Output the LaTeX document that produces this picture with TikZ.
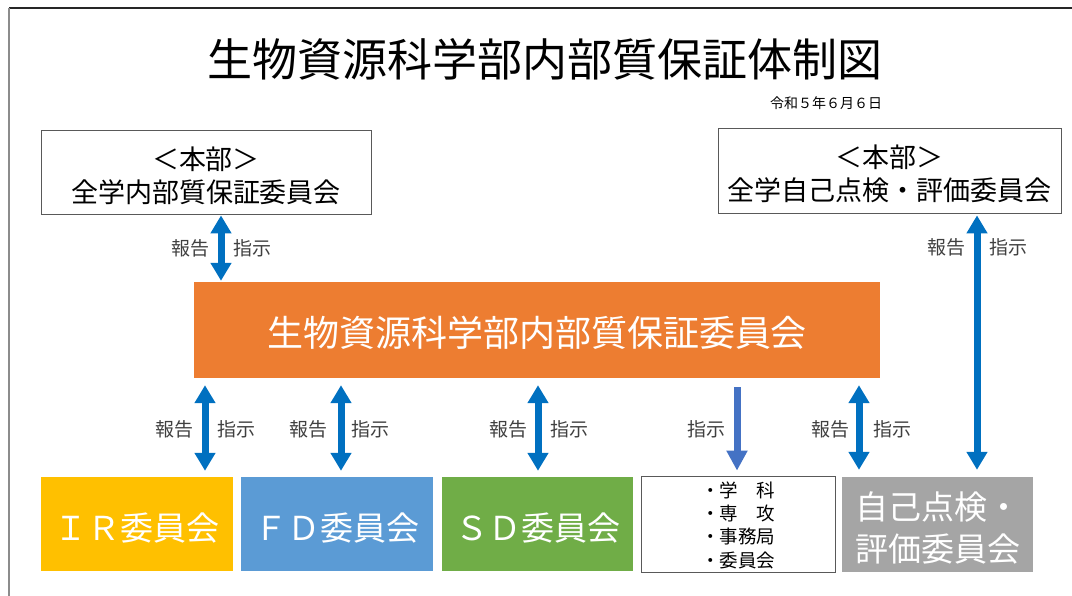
\documentclass[tikz,border=0pt]{standalone}
\usepackage{fontspec}
\setmainfont{Noto Sans CJK JP}
\usetikzlibrary{arrows.meta}
\definecolor{orng}{HTML}{ED7D31}
\definecolor{ylw}{HTML}{FFC000}
\definecolor{lblue}{HTML}{5B9BD5}
\definecolor{grn}{HTML}{70AD47}
\definecolor{gry}{HTML}{A5A5A5}
\definecolor{arrblue}{HTML}{0070C0}
\definecolor{arrblue2}{HTML}{4472C4}
\definecolor{lblgray}{HTML}{404040}
\newcommand\mylower[2]{\raisebox{-#1}[\height][\depth]{#2}}
\newcommand\mylines[2]{\mylower{#1}{\begin{tabular}{@{}c@{}}#2\end{tabular}}}
\newcommand\mylinesl[2]{\mylower{#1}{\begin{tabular}{@{}l@{}}#2\end{tabular}}}
\tikzset{
  hqbox/.style={draw=black!65, line width=0.8pt, fill=white, inner sep=0pt,
    font=\fontsize{27}{33}\selectfont},
  commbox/.style={inner sep=0pt, minimum width=192pt, minimum height=94pt, text=white,
    font=\fontsize{33}{42}\selectfont},
  dblarrow/.style={draw=arrblue, line width=7pt,
    {Triangle[width=20pt,length=18pt]}-{Triangle[width=20pt,length=18pt]}},
  onearrow/.style={draw=arrblue2, line width=7pt, -{Triangle[width=20pt,length=20pt]}},
  lbl/.style={text=lblgray, inner sep=0pt, font=\fontsize{19}{22}\selectfont}
}
\begin{document}
\begin{tikzpicture}[x=1pt,y=-1pt]
\useasboundingbox (0,0) rectangle (1072,596);
% frame
\coordinate (fTL) at (9,8);
\coordinate (fTR) at (1072,8);
\coordinate (fBL) at (9,596);
\draw[black!85, line width=1.3pt] (fTL) -- (fTR);
\draw[black!45, line width=1.3pt] (fTL) -- (fBL);

% title and date
\node[inner sep=0pt, font=\fontsize{45}{54}\selectfont] (title) at (545,59) {生物資源科学部内部質保証体制図};
\node[inner sep=0pt, font=\fontsize{14}{16}\selectfont] (date) at (826,103) {令和５年６月６日};

% top boxes
\node[hqbox, minimum width=330pt, minimum height=84pt] (hqL) at (206,172)
  {\mylines{7pt}{＜本部＞\\全学内部質保証委員会}};
\node[hqbox, minimum width=343pt, minimum height=85pt] (hqR) at (889.5,170.5)
  {\mylines{7pt}{＜本部＞\\全学自己点検・評価委員会}};

% main committee
\node[fill=orng, inner sep=0pt, minimum width=686pt, minimum height=96pt, text=white,
  font=\fontsize{36}{42}\selectfont] (main) at (537,330) {\mylower{3pt}{生物資源科学部内部質保証委員会}};

% bottom boxes
\node[commbox, fill=ylw] (ir) at (137,524) {\mylower{4pt}{ＩＲ委員会}};
\node[commbox, fill=lblue] (fd) at (337,524) {\mylower{4pt}{ＦＤ委員会}};
\node[commbox, fill=grn, minimum width=191pt] (sd) at (537.5,524) {\mylower{4pt}{ＳＤ委員会}};
\node[draw=black!65, line width=0.8pt, fill=white, inner sep=0pt, minimum width=194pt,
  minimum height=96pt, font=\fontsize{18.5}{23.3}\selectfont] (dept) at (738,524)
  {\mylinesl{3.5pt}{・学　科\\・専　攻\\・事務局\\・委員会}};
\node[commbox, fill=gry, minimum width=191pt, minimum height=95pt] (self) at (937.5,524.5)
  {\mylinesl{7.5pt}{自己点検・\\評価委員会}};

% arrows
\draw[dblarrow, shorten <=1pt, shorten >=1pt] (hqL.south -| 221,0) -- (main.north -| 221,0);
\draw[dblarrow, shorten <=7pt, shorten >=6pt] (main.south -| 205,0) -- (ir.north -| 205,0);
\draw[dblarrow, shorten <=7pt, shorten >=6pt] (main.south -| 341,0) -- (fd.north -| 341,0);
\draw[dblarrow, shorten <=7pt, shorten >=6pt] (main.south -| 538,0) -- (sd.north -| 538,0);
\draw[onearrow, shorten <=9pt, shorten >=5pt] (main.south -| 737,0) -- (dept.north -| 737,0);
\draw[dblarrow, shorten <=7pt, shorten >=7pt] (main.south -| 859,0) -- (self.north -| 859,0);
\draw[dblarrow, shorten <=2pt, shorten >=7pt] (hqR.south -| 977,0) -- (self.north -| 977,0);

% labels
\node[lbl] (l1a) at (190,248) {報告};
\node[lbl] (l1b) at (252,248) {指示};
\node[lbl] (l2a) at (174,429) {報告};
\node[lbl] (l2b) at (236,429) {指示};
\node[lbl] (l3a) at (308,429) {報告};
\node[lbl] (l3b) at (370,429) {指示};
\node[lbl] (l4a) at (508,429) {報告};
\node[lbl] (l4b) at (569,429) {指示};
\node[lbl] (l5b) at (706,429) {指示};
\node[lbl] (l6a) at (830,429) {報告};
\node[lbl] (l6b) at (892,429) {指示};
\node[lbl] (l7a) at (946.5,247) {報告};
\node[lbl] (l7b) at (1008.5,247) {指示};
\end{tikzpicture}
\end{document}
